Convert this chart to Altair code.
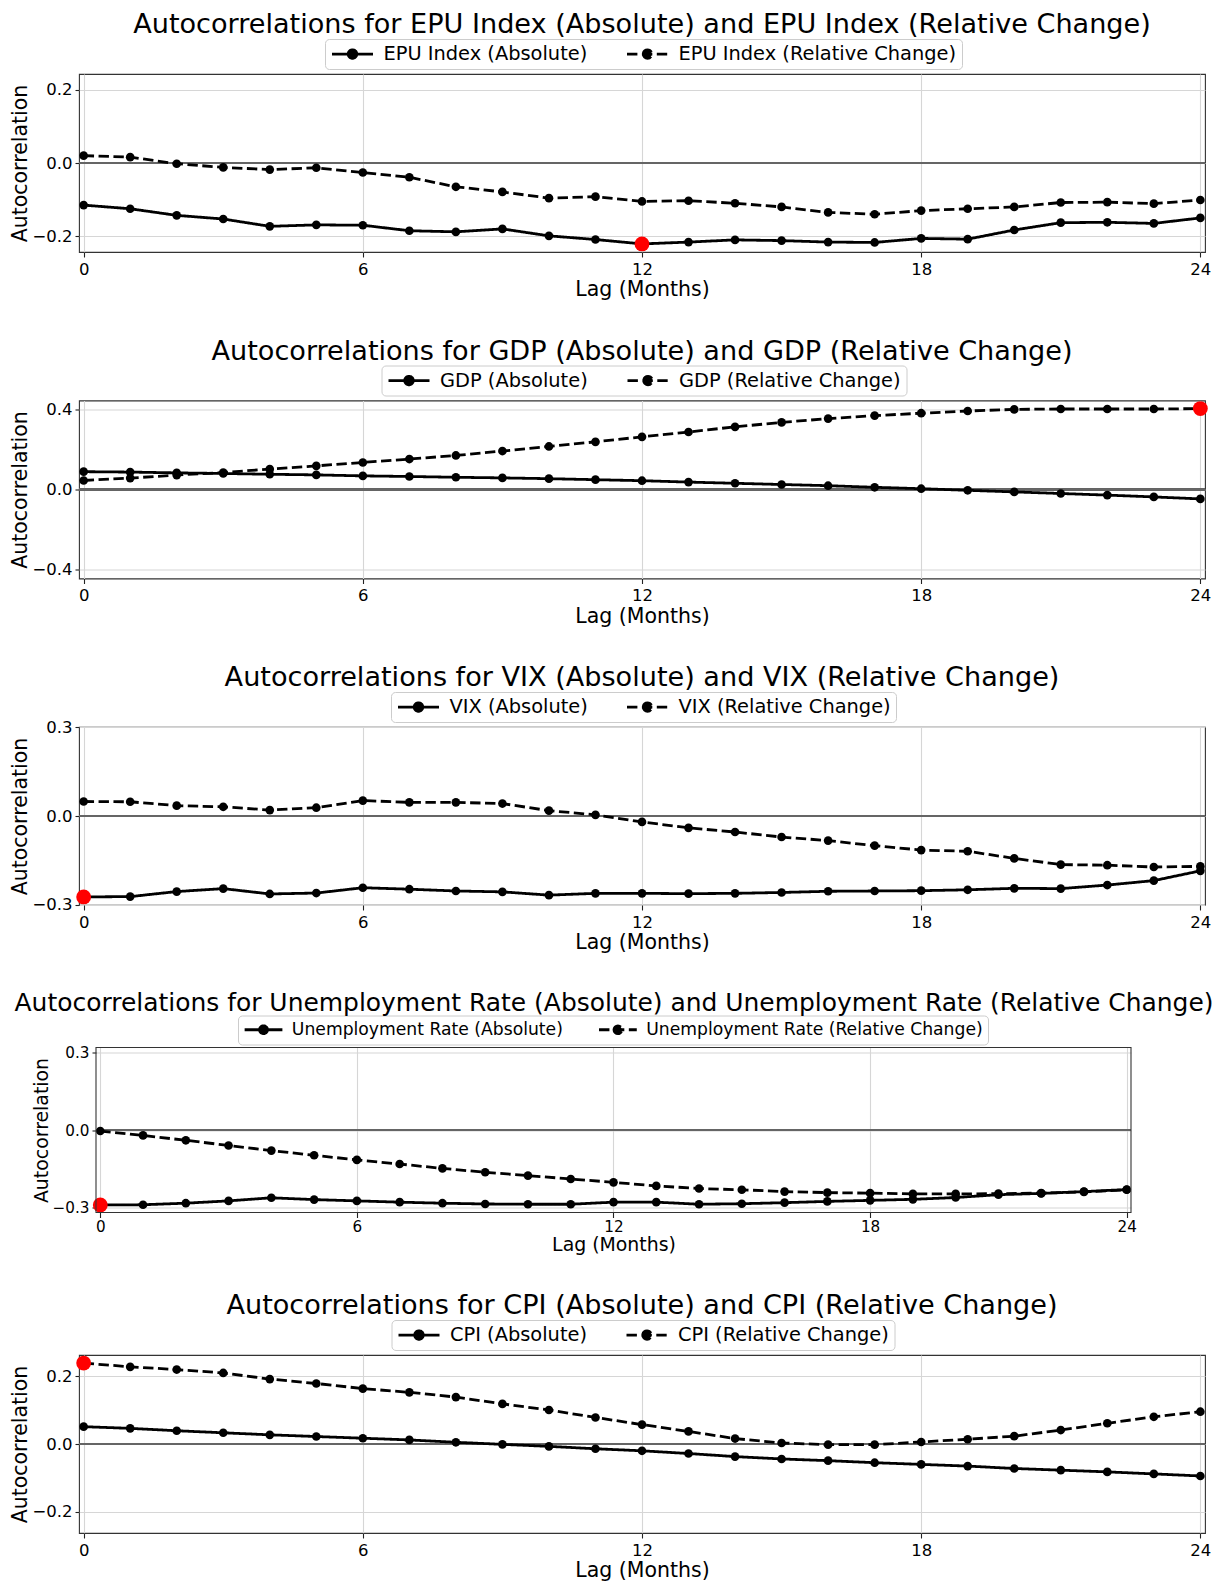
import altair as alt
import pandas as pd

lags = list(range(25))

panel_labels = ["EPU Index", "GDP", "VIX", "Unemployment Rate", "CPI"]

epu_abs = [-0.115, -0.125, -0.143, -0.153, -0.173, -0.169, -0.170, -0.185, -0.188, -0.180, -0.199, -0.209,
           -0.221, -0.216, -0.210, -0.212, -0.216, -0.217, -0.206, -0.208, -0.183, -0.163, -0.162, -0.165, -0.150]
epu_rel = [0.020, 0.016, -0.002, -0.012, -0.018, -0.013, -0.026, -0.039, -0.065, -0.079, -0.096, -0.092,
           -0.105, -0.103, -0.110, -0.120, -0.135, -0.140, -0.130, -0.125, -0.120, -0.108, -0.107, -0.111, -0.101]

gdp_abs = [0.089, 0.087, 0.083, 0.080, 0.076, 0.073, 0.068, 0.065, 0.061, 0.058, 0.054, 0.049,
           0.044, 0.037, 0.031, 0.025, 0.019, 0.011, 0.004, -0.004, -0.012, -0.020, -0.028, -0.037, -0.047]
gdp_rel = [0.045, 0.057, 0.072, 0.085, 0.102, 0.118, 0.135, 0.152, 0.170, 0.192, 0.215, 0.238,
           0.263, 0.287, 0.313, 0.335, 0.354, 0.369, 0.381, 0.392, 0.400, 0.402, 0.402, 0.402, 0.404]

vix_abs = [-0.273, -0.272, -0.255, -0.245, -0.263, -0.260, -0.242, -0.247, -0.253, -0.256, -0.267, -0.261,
           -0.261, -0.262, -0.261, -0.258, -0.254, -0.253, -0.252, -0.249, -0.244, -0.245, -0.233, -0.218, -0.185]
vix_rel = [0.049, 0.048, 0.035, 0.031, 0.020, 0.028, 0.052, 0.046, 0.046, 0.042, 0.018, 0.004,
           -0.020, -0.040, -0.054, -0.071, -0.083, -0.100, -0.115, -0.119, -0.143, -0.164, -0.166, -0.172, -0.170]

unemp_abs = [-0.291, -0.290, -0.284, -0.275, -0.263, -0.270, -0.275, -0.280, -0.284, -0.287, -0.288, -0.288,
             -0.280, -0.280, -0.288, -0.286, -0.282, -0.277, -0.273, -0.269, -0.262, -0.251, -0.246, -0.239, -0.231]
unemp_rel = [-0.004, -0.021, -0.040, -0.060, -0.080, -0.098, -0.116, -0.132, -0.149, -0.164, -0.177, -0.190,
             -0.203, -0.217, -0.227, -0.232, -0.239, -0.243, -0.245, -0.248, -0.248, -0.247, -0.245, -0.240, -0.232]

cpi_abs = [0.051, 0.046, 0.039, 0.033, 0.027, 0.022, 0.017, 0.012, 0.005, -0.001, -0.007, -0.014,
           -0.020, -0.028, -0.037, -0.044, -0.049, -0.055, -0.060, -0.065, -0.072, -0.077, -0.082, -0.088, -0.094]
cpi_rel = [0.238, 0.227, 0.219, 0.209, 0.191, 0.178, 0.163, 0.152, 0.138, 0.118, 0.100, 0.078,
           0.057, 0.037, 0.016, 0.003, -0.002, -0.002, 0.006, 0.014, 0.023, 0.041, 0.061, 0.080, 0.095]

x_ticks = [0, 6, 12, 18, 24]
y_tick_steps = [0.2, 0.4, 0.3, 0.3, 0.2]

abs_series = [epu_abs, gdp_abs, vix_abs, unemp_abs, cpi_abs]
rel_series = [epu_rel, gdp_rel, vix_rel, unemp_rel, cpi_rel]

FONT = "DejaVu Sans"
LEGEND_PATH = ("M-2.5,0L2.5,0M-0.52,0A0.52,0.52,0,1,0,0.52,0"
               "A0.52,0.52,0,1,0,-0.52,0Z")
MINUS_LABEL = ("datum.value < 0 ? '\u2212' + format(-datum.value, '.1f') : format(datum.value, '.1f')")

# per panel: group width, plot left inset, plot height, font scale, legend x, legend y,
#            title dx, legend font, x label padding, x title padding
layouts = [
    (1126, 0, 178, 1.0, 246, -35, 0, 19.4, 4, 2),
    (1126, 0, 178, 1.0, 302.5, -35, 0, 19.4, 4, 2),
    (1126, 0, 178, 1.0, 312, -35, 0, 19.4, 4, 2),
    (1052, 17, 165, 0.921, 159, -32, 9, 17.2, 1.5, 1),
    (1126, 0, 178, 1.0, 312.5, -35, 0, 19.4, 4, 2),
]


def make_panel(idx, label, a_vals, r_vals, step, layout):
    w, inset, h, k, lx, ly, tdx, lfs, xlp, xtp = layout
    name_a = f"{label} (Absolute)"
    name_r = f"{label} (Relative Change)"
    sname = f"series{idx}"
    df = pd.DataFrame({
        "lag": lags + lags,
        "value": a_vals + r_vals,
        sname: [name_a] * len(lags) + [name_r] * len(lags),
    })
    lim = 1.1 * max(abs(v) for v in a_vals + r_vals)
    hi = df.loc[df["value"].abs().idxmax()]
    df_hi = pd.DataFrame({"lag": [hi["lag"]], "value": [hi["value"]]})

    if inset:
        xscale = alt.Scale(domain=[-0.1, 24.1], nice=False, zero=False, range=[inset, w])
    else:
        xscale = alt.Scale(domain=[-0.1, 24.1], nice=False, zero=False)
    x = alt.X("lag:Q", scale=xscale,
              axis=alt.Axis(values=x_ticks, title="Lag (Months)", format="d",
                            labelFontSize=16.5 * k, titleFontSize=20.5 * k,
                            labelPadding=xlp, titlePadding=xtp))
    yaxis_kw = dict(values=[-step, 0, step], title="Autocorrelation", labelExpr=MINUS_LABEL,
                    labelFontSize=16.5 * k, titleFontSize=20.5 * k,
                    tickSize=4, labelPadding=3, titlePadding=1)
    if inset:
        yaxis_kw["offset"] = -inset
    y = alt.Y("value:Q",
              scale=alt.Scale(domain=[-lim, lim], nice=False, zero=False),
              axis=alt.Axis(**yaxis_kw))

    zero = alt.Chart(df).mark_rule(color="#666666", strokeWidth=1.4).encode(
        x=alt.datum(-0.1), x2=alt.datum(24.1), y=alt.datum(0))
    lines = alt.Chart(df).mark_line(color="black", strokeWidth=2.8).encode(
        x=x, y=y,
        strokeDash=alt.StrokeDash(
            f"{sname}:N",
            scale=alt.Scale(domain=[name_a, name_r], range=[[1, 0], [10.4, 4.5]]),
            legend=alt.Legend(
                title=None, orient="none", legendX=lx, legendY=ly,
                direction="horizontal", columns=2,
                symbolType=LEGEND_PATH, symbolSize=(16.4 * k) ** 2,
                symbolStrokeWidth=2.8, symbolStrokeColor="black", symbolFillColor="black",
                symbolOffset=12.5 * k,
                labelFont=FONT, labelFontSize=lfs, labelColor="black", labelLimit=600,
                labelOffset=21 * k, columnPadding=33 * k, padding=5,
                strokeColor="#cccccc", cornerRadius=4, fillColor="white",
            ),
        ),
    )
    pts = alt.Chart(df).mark_circle(size=75, color="black", opacity=1).encode(
        x=x, y=y, detail=f"{sname}:N")
    red = alt.Chart(df_hi).mark_circle(size=220, color="red", opacity=1).encode(x=x, y=y)
    layers = [zero, lines, pts, red]
    props = dict(
        width=w, height=h,
        title=alt.TitleParams(
            text=f"Autocorrelations for {label} (Absolute) and {label} (Relative Change)",
            fontSize=27.1 * k, font=FONT, fontWeight="normal", color="black",
            anchor="middle", offset=-1, dx=tdx,
        ),
    )
    if inset:
        frame = alt.Chart(df_hi).mark_rect(fillOpacity=0, stroke="#333333", strokeWidth=1.1).encode(
            x=alt.datum(-0.1), x2=alt.datum(24.1), y=alt.datum(-lim), y2=alt.datum(lim))
        layers.append(frame)
        props["view"] = alt.ViewBackground(stroke="transparent")
    return alt.layer(*layers).properties(**props)


panels = [make_panel(i, lbl, a, r, s, lay)
          for i, (lbl, a, r, s, lay) in enumerate(zip(panel_labels, abs_series, rel_series, y_tick_steps, layouts))]

chart = alt.concat(*panels, columns=1, spacing=35.5).resolve_scale(
    strokeDash="independent", x="independent", y="independent"
).resolve_legend(strokeDash="independent").properties(
    padding={"left": 2, "top": 2, "right": 0, "bottom": 0},
    background="white",
).configure_view(
    stroke="#333333", strokeWidth=1.1,
).configure_axis(
    domain=False, grid=True, gridColor="#d6d6d6", gridWidth=1.1,
    ticks=True, tickColor="#222222", tickSize=5, tickWidth=1.1,
    labelFont=FONT, titleFont=FONT, labelColor="black", titleColor="black",
    titleFontWeight="normal", labelFlush=False, labelOverlap=False,
)

chart.save("out.html", embed_options={"renderer": "svg", "actions": False})
